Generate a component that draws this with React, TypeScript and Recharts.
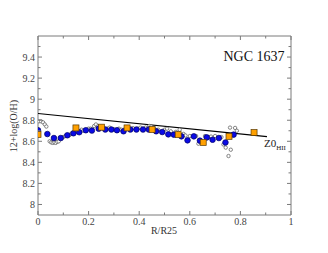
import { ComposedChart, Scatter, XAxis, YAxis } from 'recharts'

// blue filled circles
const blueR = [0, 0.037, 0.063, 0.09, 0.116, 0.14, 0.163, 0.189, 0.213, 0.24, 0.266, 0.29, 0.312, 0.338, 0.365, 0.389, 0.415, 0.438, 0.467, 0.491, 0.515, 0.537, 0.567, 0.591, 0.616, 0.64, 0.667, 0.69, 0.715, 0.741, 0.773]
const blueOH = [8.705, 8.669, 8.631, 8.631, 8.657, 8.676, 8.686, 8.705, 8.702, 8.72, 8.712, 8.712, 8.705, 8.695, 8.712, 8.712, 8.712, 8.712, 8.695, 8.688, 8.666, 8.663, 8.647, 8.609, 8.647, 8.606, 8.637, 8.615, 8.631, 8.589, 8.663]

// orange squares
const sqR = [0, 0.15, 0.251, 0.352, 0.451, 0.554, 0.653, 0.755, 0.854]
const sqOH = [8.666, 8.727, 8.734, 8.727, 8.712, 8.663, 8.589, 8.647, 8.683]

// small open circles
const openR = [0.004, 0.012, 0.02, 0.027, 0.033, 0.046, 0.052, 0.058, 0.064, 0.07, 0.076, 0.082, 0.1, 0.108, 0.125, 0.133, 0.15, 0.172, 0.18, 0.2, 0.208, 0.222, 0.229, 0.236, 0.258, 0.275, 0.283, 0.3, 0.32, 0.33, 0.345, 0.36, 0.375, 0.395, 0.405, 0.425, 0.44, 0.447, 0.46, 0.475, 0.5, 0.51, 0.525, 0.545, 0.56, 0.575, 0.583, 0.6, 0.625, 0.634, 0.66, 0.675, 0.684, 0.7, 0.725, 0.733, 0.742, 0.753, 0.762, 0.759, 0.779, 0.786]
const openOH = [8.79, 8.79, 8.78, 8.76, 8.74, 8.6, 8.59, 8.585, 8.59, 8.585, 8.595, 8.6, 8.64, 8.65, 8.66, 8.675, 8.69, 8.71, 8.7, 8.72, 8.72, 8.745, 8.76, 8.74, 8.73, 8.72, 8.73, 8.715, 8.72, 8.71, 8.72, 8.72, 8.725, 8.72, 8.73, 8.73, 8.745, 8.74, 8.72, 8.71, 8.71, 8.72, 8.695, 8.69, 8.71, 8.67, 8.655, 8.65, 8.65, 8.577, 8.65, 8.64, 8.645, 8.65, 8.64, 8.57, 8.54, 8.46, 8.52, 8.73, 8.727, 8.70]

// Z0 HII gradient line
const lineR = [0, 0.905]
const lineOH = [8.864, 8.645]

const xTicks = [0, 0.1, 0.2, 0.3, 0.4, 0.5, 0.6, 0.7, 0.8, 0.9, 1]
const xMajor = ['0', '0.2', '0.4', '0.6', '0.8', '1']
const yTicks = [8, 8.1, 8.2, 8.3, 8.4, 8.5, 8.6, 8.7, 8.8, 8.9, 9, 9.1, 9.2, 9.3, 9.4, 9.5]
const yMajor = ['8', '8.2', '8.4', '8.6', '8.8', '9', '9.2', '9.4']

const toPts = (xs: number[], ys: number[]) => xs.map((x, i) => ({ x, y: ys[i] }))

const AX = '#7a7a7a'
const FONT = '"Liberation Serif", "DejaVu Serif", serif'
const M = 2

const lbl = (v: number, list: string[]) => {
  const s = String(Math.round(v * 10) / 10)
  return list.includes(s) ? s : null
}

const LeftTick = (p: any) => {
  const ax = p.x + M
  const t = lbl(p.payload.value, yMajor)
  return (
    <g>
      <line x1={ax} x2={ax + (t ? 4 : 2.5)} y1={p.y} y2={p.y} stroke={AX} />
      {t && <text x={p.x - 1} y={p.y + 3.5} textAnchor="end" fontSize={10} fontFamily={FONT} fill="#444">{t}</text>}
    </g>
  )
}
const RightTick = (p: any) => {
  const ax = p.x - M
  const t = lbl(p.payload.value, yMajor)
  return <line x1={ax} x2={ax - (t ? 4 : 2.5)} y1={p.y} y2={p.y} stroke={AX} />
}
const BottomTick = (p: any) => {
  const ay = p.y - M
  const t = lbl(p.payload.value, xMajor)
  return (
    <g>
      <line x1={p.x} x2={p.x} y1={ay} y2={ay - (t ? 4 : 2.5)} stroke={AX} />
      {t && <text x={p.x} y={ay + 10} textAnchor="middle" fontSize={10} fontFamily={FONT} fill="#444">{t}</text>}
    </g>
  )
}
const TopTick = (p: any) => {
  const ay = p.y + M
  const t = lbl(p.payload.value, xMajor)
  return <line x1={p.x} x2={p.x} y1={ay} y2={ay + (t ? 4 : 2.5)} stroke={AX} />
}

const Blue = (p: any) => <circle cx={p.cx} cy={p.cy} r={2.8} fill="#0a0ae6" stroke="#000060" strokeWidth={0.7} />
const Square = (p: any) => <rect x={p.cx - 3} y={p.cy - 3} width={6} height={6} fill="#ffa000" stroke="#5a3a00" strokeWidth={0.7} />
const Open = (p: any) => <circle cx={p.cx} cy={p.cy} r={1.7} fill="#fff" stroke="#555" strokeWidth={0.7} />
const None = () => <g />

export default function App() {
  return (
    <div style={{ position: 'absolute', left: 0, top: 0, width: 328, height: 253, background: '#fff' }}>
      <ComposedChart width={328} height={253} margin={{ top: 35, right: 36, bottom: 0, left: 0 }}>
        <XAxis xAxisId="b" type="number" dataKey="x" domain={[0, 1]} ticks={xTicks} interval={0} orientation="bottom" height={38}
          tickSize={0} tickMargin={M} tick={<BottomTick />} axisLine={{ stroke: AX }} allowDataOverflow />
        <XAxis xAxisId="t" type="number" dataKey="x" domain={[0, 1]} ticks={xTicks} interval={0} orientation="top" height={1}
          tickSize={0} tickMargin={M} tick={<TopTick />} axisLine={{ stroke: AX }} allowDataOverflow />
        <YAxis yAxisId="l" type="number" dataKey="y" domain={[7.9, 9.6]} ticks={yTicks} interval={0} orientation="left" width={38}
          tickSize={0} tickMargin={M} tick={<LeftTick />} axisLine={{ stroke: AX }} allowDataOverflow />
        <YAxis yAxisId="r" type="number" dataKey="y" domain={[7.9, 9.6]} ticks={yTicks} interval={0} orientation="right" width={1}
          tickSize={0} tickMargin={M} tick={<RightTick />} axisLine={{ stroke: AX }} allowDataOverflow />
        <Scatter xAxisId="t" yAxisId="r" data={toPts(lineR, lineOH)} shape={<None />} isAnimationActive={false} />
        <Scatter xAxisId="b" yAxisId="l" data={toPts(lineR, lineOH)} line={{ stroke: '#000', strokeWidth: 1.2 }} shape={<None />} isAnimationActive={false} />
        <Scatter xAxisId="b" yAxisId="l" data={toPts(openR, openOH)} shape={<Open />} isAnimationActive={false} />
        <Scatter xAxisId="b" yAxisId="l" data={toPts(blueR, blueOH)} shape={<Blue />} isAnimationActive={false} />
        <Scatter xAxisId="b" yAxisId="l" data={toPts(sqR, sqOH)} shape={<Square />} isAnimationActive={false} />
      </ComposedChart>
      <svg width={328} height={253} style={{ position: 'absolute', left: 0, top: 0, pointerEvents: 'none' }}>
        <text x={254} y={61} textAnchor="middle" fontSize={14} fontFamily={FONT} fill="#111">NGC 1637</text>
        <text x={264} y={147} fontSize={11} fontFamily={FONT} fill="#222">Z0<tspan fontSize={7} dy={3}>HII</tspan></text>
        <text x={164} y={234} textAnchor="middle" fontSize={10} fontFamily={FONT} fill="#333">R/R25</text>
        <text transform="translate(17,126) rotate(-90)" textAnchor="middle" fontSize={10} fontFamily={FONT} fill="#333">12+log(O/H)</text>
      </svg>
    </div>
  )
}
